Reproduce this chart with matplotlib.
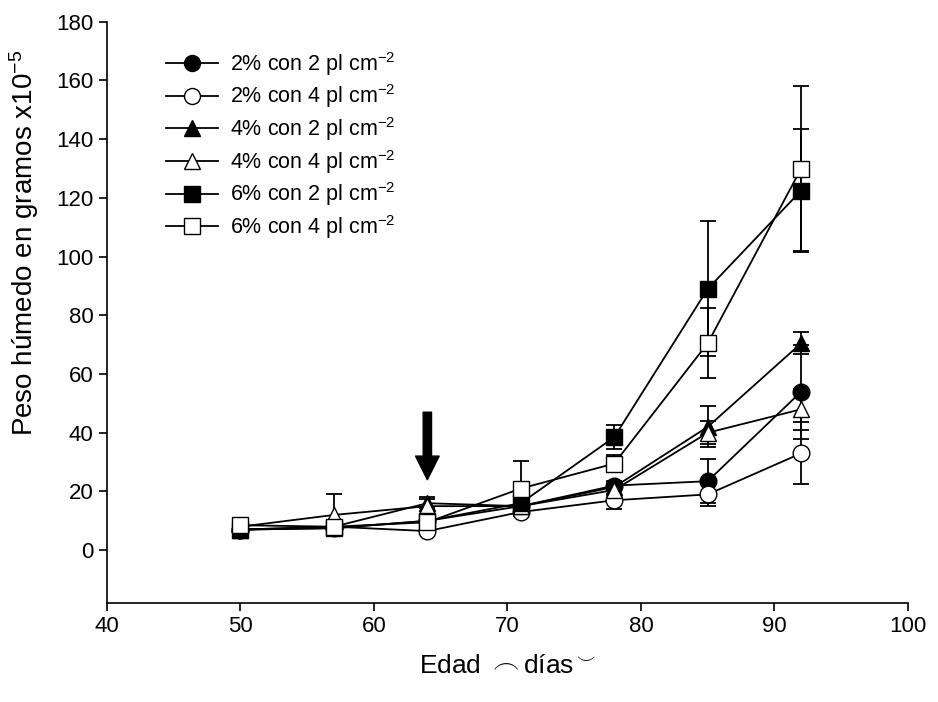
import matplotlib.pyplot as plt
from matplotlib.lines import Line2D

plt.rcParams['font.family'] = ['Liberation Sans', 'DejaVu Sans']
plt.rcParams['mathtext.fontset'] = 'custom'
plt.rcParams['mathtext.rm'] = 'Liberation Sans'
plt.rcParams['mathtext.it'] = 'Liberation Sans'

# edad en dias
dias = [50, 57, 64, 71, 78, 85, 92]

# peso humedo (x10^-5 g) y error
c2p2 = [7, 7.5, 10, 15, 22, 23.5, 54]
e_c2p2 = [0.5, 0.5, 1, 1, 1.5, 7.5, 16]
c2p4 = [7, 8, 6.5, 13, 17, 19, 33]
e_c2p4 = [0.5, 0.5, 1, 1.5, 3, 4, 10.5]
c4p2 = [7, 8, 16, 15, 21.5, 42, 70.5]
e_c4p2 = [0.5, 0.5, 1.5, 1.5, 1.5, 7, 3.8]
c4p4 = [8, 12, 15, 15, 20.5, 40, 48]
e_c4p4 = [0.5, 7, 3, 1.5, 1.5, 4, 7]
c6p2 = [7, 7.5, 10, 16, 38.5, 89, 122.5]
e_c6p2 = [0.5, 0.5, 1, 1.5, 4, 23, 21]
c6p4 = [8.5, 8, 9.5, 21, 29.5, 70.5, 130]
e_c6p4 = [0.5, 0.5, 1, 9.5, 3, 12, 28]

etiquetas = ['2% con 2 pl cm$^{-2}$', '2% con 4 pl cm$^{-2}$',
             '4% con 2 pl cm$^{-2}$', '4% con 4 pl cm$^{-2}$',
             '6% con 2 pl cm$^{-2}$', '6% con 4 pl cm$^{-2}$']

series = [(c2p2, e_c2p2, 'o', 'black'), (c2p4, e_c2p4, 'o', 'white'),
          (c4p2, e_c4p2, '^', 'black'), (c4p4, e_c4p4, '^', 'white'),
          (c6p2, e_c6p2, 's', 'black'), (c6p4, e_c6p4, 's', 'white')]

fig = plt.figure(figsize=(9.38, 7.02), dpi=100)
ax = fig.add_axes([0.114, 0.141, 0.854, 0.828])

handles = []
for (y, e, m, fc), lab in zip(series, etiquetas):
    ax.errorbar(dias, y, yerr=e, fmt='-', marker=m, color='black', mfc=fc, mec='black',
                markersize=12, linewidth=1.3, elinewidth=1.3, capsize=6, capthick=1.3)
    handles.append(Line2D([], [], color='black', marker=m, mfc=fc, mec='black',
                          markersize=11.5, linewidth=1.3, label=lab))

# flecha en el dia 64
ax.annotate('', xy=(64, 24), xytext=(64, 47),
            arrowprops=dict(width=6, headwidth=17, headlength=17, color='black'))

ax.set_xlim(40, 100)
ax.set_ylim(-18, 180)
ax.set_xticks(range(40, 101, 10))
ax.set_yticks(range(0, 181, 20))
ax.spines['top'].set_visible(False)
ax.spines['right'].set_visible(False)
ax.tick_params(direction='out', length=6, width=1.2, labelsize=16)
for s in ['left', 'bottom']:
    ax.spines[s].set_linewidth(1.2)

ax.set_xlabel('Edad $\\frown$días$^{\\smile}$', fontsize=19, labelpad=12)
ax.set_ylabel('Peso húmedo en gramos x10$^{-5}$', fontsize=20)
ax.yaxis.set_label_coords(-0.082, 0.62)

ax.legend(handles=handles, loc='upper left', bbox_to_anchor=(0.05, 0.985), frameon=False,
          fontsize=15.5, handlelength=2.4, labelspacing=0.22, handletextpad=0.55)

plt.savefig('out.png')
